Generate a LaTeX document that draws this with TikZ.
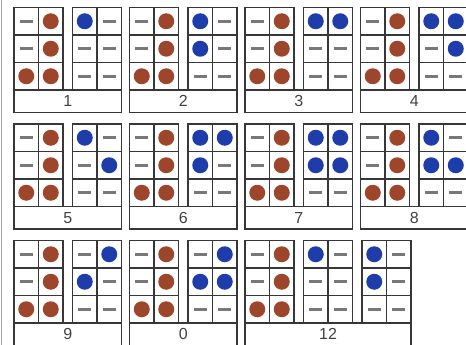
\documentclass[tikz,border=0pt]{standalone}
\usepackage{fontspec}
\setmainfont{Liberation Sans}
\definecolor{brownc}{RGB}{158,70,44}
\definecolor{bluec}{RGB}{30,60,170}
\definecolor{linec}{RGB}{55,55,55}
\definecolor{dashc}{RGB}{120,120,120}
\definecolor{textc}{RGB}{65,65,65}

\tikzset{
  gridline/.style={draw=linec, line width=1.5pt},
  reddot/.style={circle, fill=brownc, minimum size=16pt, inner sep=0pt},
  bluedot/.style={circle, fill=bluec, minimum size=16pt, inner sep=0pt},
  dashmark/.style={rectangle, fill=dashc, minimum width=13pt, minimum height=2.8pt, inner sep=0pt},
  tagbox/.style={draw=linec, line width=1.5pt, anchor=north west, minimum height=22.5pt,
    inner sep=0pt, outer sep=0pt, text=textc, font=\fontsize{16}{16}\selectfont}
}

% block of 2x3 cells: name, x, y, then the six cell marks row by row
\newcommand{\block}[9]{
  \draw[gridline] (#2,#3) rectangle ++(49,82.5);
  \draw[gridline] (#2+24.5,#3) -- ++(0,82.5);
  \draw[gridline] (#2,#3+27.5) -- ++(49,0);
  \draw[gridline] (#2,#3+55) -- ++(49,0);
  \node(#1a)[#4] at (#2+12.25, #3+13.75) {};
  \node(#1b)[#5] at (#2+36.75, #3+13.75) {};
  \node(#1c)[#6] at (#2+12.25, #3+41.25) {};
  \node(#1d)[#7] at (#2+36.75, #3+41.25) {};
  \node(#1e)[#8] at (#2+12.25, #3+68.75) {};
  \node(#1f)[#9] at (#2+36.75, #3+68.75) {};
}
\newcommand{\tensblock}[3]{
  \block{#1}{#2}{#3}{dashmark}{reddot}{dashmark}{reddot}{reddot}{reddot}
}

\begin{document}
\begin{tikzpicture}[x=1pt, y=-1pt]
\useasboundingbox (0,0) rectangle (466,345);
\clip (0,0) rectangle (466,345);

\draw[draw=gray!70, line width=1pt] (1.5,0) -- (1.5,345);

% row 1
\tensblock{p1}{14}{7.5}
\block{q1}{72.5}{7.5}{bluedot}{dashmark}{dashmark}{dashmark}{dashmark}{dashmark}
\node(t1)[tagbox, minimum width=107.5pt] at (14, 90) {1};

\tensblock{p2}{129.5}{7.5}
\block{q2}{188}{7.5}{bluedot}{dashmark}{bluedot}{dashmark}{dashmark}{dashmark}
\node(t2)[tagbox, minimum width=107.5pt] at (129.5, 90) {2};

\tensblock{p3}{245}{7.5}
\block{q3}{303.5}{7.5}{bluedot}{bluedot}{dashmark}{dashmark}{dashmark}{dashmark}
\node(t3)[tagbox, minimum width=107.5pt] at (245, 90) {3};

\tensblock{p4}{360.5}{7.5}
\block{q4}{419}{7.5}{bluedot}{bluedot}{dashmark}{bluedot}{dashmark}{dashmark}
\node(t4)[tagbox, minimum width=107.5pt] at (360.5, 90) {4};

% row 2
\tensblock{p5}{14}{124}
\block{q5}{72.5}{124}{bluedot}{dashmark}{dashmark}{bluedot}{dashmark}{dashmark}
\node(t5)[tagbox, minimum width=107.5pt] at (14, 206.5) {5};

\tensblock{p6}{129.5}{124}
\block{q6}{188}{124}{bluedot}{bluedot}{bluedot}{dashmark}{dashmark}{dashmark}
\node(t6)[tagbox, minimum width=107.5pt] at (129.5, 206.5) {6};

\tensblock{p7}{245}{124}
\block{q7}{303.5}{124}{bluedot}{bluedot}{bluedot}{bluedot}{dashmark}{dashmark}
\node(t7)[tagbox, minimum width=107.5pt] at (245, 206.5) {7};

\tensblock{p8}{360.5}{124}
\block{q8}{419}{124}{bluedot}{dashmark}{bluedot}{bluedot}{dashmark}{dashmark}
\node(t8)[tagbox, minimum width=107.5pt] at (360.5, 206.5) {8};

% row 3
\tensblock{p9}{14}{240.5}
\block{q9}{72.5}{240.5}{dashmark}{bluedot}{bluedot}{dashmark}{dashmark}{dashmark}
\node(t9)[tagbox, minimum width=107.5pt] at (14, 323) {9};

\tensblock{p0}{129.5}{240.5}
\block{q0}{188}{240.5}{dashmark}{bluedot}{bluedot}{bluedot}{dashmark}{dashmark}
\node(t0)[tagbox, minimum width=107.5pt] at (129.5, 323) {0};

\tensblock{p12}{245}{240.5}
\block{q12}{303.5}{240.5}{bluedot}{dashmark}{dashmark}{dashmark}{dashmark}{dashmark}
\block{r12}{362}{240.5}{bluedot}{dashmark}{bluedot}{dashmark}{dashmark}{dashmark}
\node(t12)[tagbox, minimum width=166pt] at (245, 323) {12};
\end{tikzpicture}
\end{document}
